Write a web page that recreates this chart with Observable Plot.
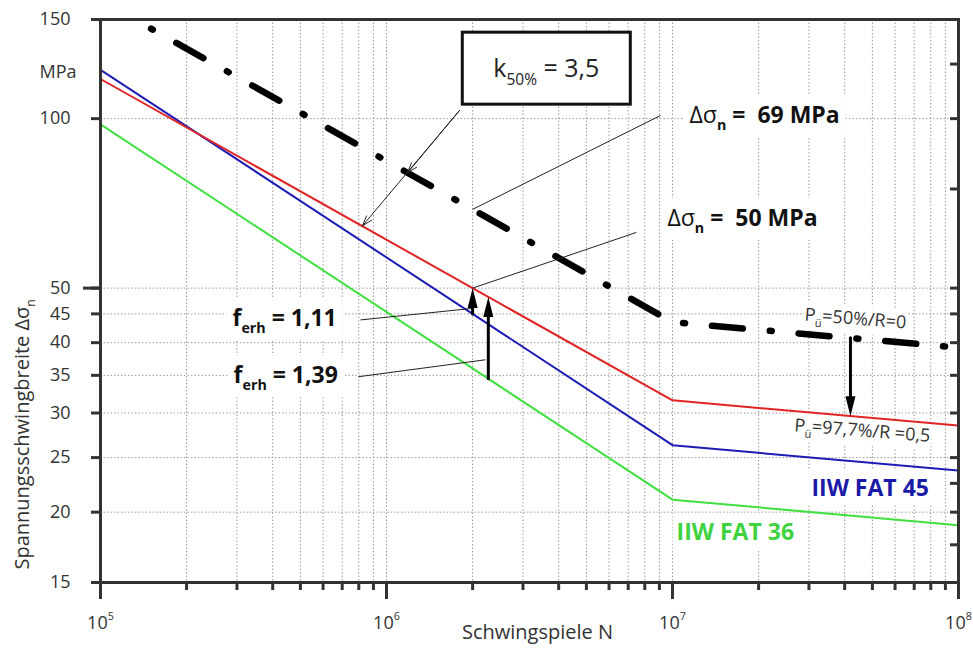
<!DOCTYPE html>
<html><head><meta charset="utf-8">
<script src="https://cdn.jsdelivr.net/npm/d3@7"></script>
<script src="https://cdn.jsdelivr.net/npm/@observablehq/plot@0.6"></script>
<style>
body{margin:0;background:#fff;}
#chart svg{font-family:"Open Sans",sans-serif;}
#chart text{white-space:pre;}
</style></head><body><div id="chart"></div>
<script>
// ---- data ----
const cycles = [1e5, 2e6, 1e7, 1e8];
const ref50 = [162.3, 69, 43.5, 39.2];     // P_ü=50%/R=0 (dash-dot)
const red977 = [117.6, 50, 31.6, 28.5];    // P_ü=97,7%/R=0,5
const fat45 = [122.1, 45, 26.3, 23.7];     // IIW FAT 45
const fat36 = [97.7, 36, 21.05, 18.96];    // IIW FAT 36

const xMajor = [1e5, 1e6, 1e7, 1e8];
const xMinor = [2e5,3e5,4e5,5e5,6e5,7e5,8e5,9e5,2e6,3e6,4e6,5e6,6e6,7e6,8e6,9e6,2e7,3e7,4e7,5e7,6e7,7e7,8e7,9e7];
const xGrid = [...xMinor, 1e6, 1e7];
const yTicks = [15, 20, 25, 30, 35, 40, 45, 50, 100, 150];
const yGrid = [20, 25, 30, 35, 40, 45, 50, 100];
const yRight = [17.5, 20, 22.5, 25, 30, 35, 40, 45, 50, 75, 100, 125];

const rows = vals => cycles.map((n, i) => ({n, s: vals[i]}));

// annotations (data coordinates)
const boxNote = [{n: 3.62e6, s: 122.3, label: "k_{50%} = 3,5"}];
const boldNotes = [
  {n: 1.147e7, s: 101.3, label: "!{Δσ}_{n} =  69 MPa"},
  {n: 9.6e6, s: 66.4, label: "!{Δσ}_{n} =  50 MPa"},
  {n: 2.894e5, s: 44.1, label: "f_{erh} = 1,11"},
  {n: 2.92e5, s: 34.9, label: "f_{erh} = 1,39"}
];
const pNotes = [
  {n: 4.36e7, s: 44.1, label: "P_{ü}=50%/R=0"},
  {n: 4.61e7, s: 27.9, label: "P_{ü}=97,7%/R =0,5"}
];
const fatNotes = [
  {n: 3.06e7, s: 22.0, label: "IIW FAT 45", color: "#1a1aa8"},
  {n: 1.033e7, s: 18.4, label: "IIW FAT 36", color: "#3fd23f"}
];
const yTitle = [{s: 27.5, label: "Spannungsschwingbreite Δσ_{n}"}];
const leaderArrows = [
  {n1: 1.80e6, s1: 103.4, n2: 8.24e5, s2: 64.5},
  {n1: 1.80e6, s1: 103.4, n2: 1.184e6, s2: 80.1}
];
const leaderLinks = [
  {n1: 9.08e6, s1: 101.3, n2: 2e6, s2: 69},
  {n1: 7.48e6, s1: 62.8, n2: 2e6, s2: 50},
  {n1: 8.11e5, s1: 43.9, n2: 1.98e6, s2: 46.0},
  {n1: 7.98e5, s1: 34.8, n2: 2.22e6, s2: 37.3}
];
const bigArrows = [
  {n: 2e6, s1: 45, s2: 50},
  {n: 2.27e6, s1: 34.5, s2: 48.2},
  {n: 4.19e7, s1: 40.8, s2: 29.6}
];

const headSymbol = {draw(ctx) { ctx.moveTo(0, 0); ctx.lineTo(5, 20); ctx.lineTo(-5, 20); ctx.closePath(); }};

const svg = Plot.plot({
  width: 973, height: 648,
  marginLeft: 100, marginRight: 15, marginTop: 19, marginBottom: 66,
  style: {fontFamily: '"Open Sans", sans-serif', fontSize: "18px", color: "#333", background: "#fff"},
  x: {type: "log", domain: [1e5, 1e8]},
  y: {type: "log", domain: [15, 150]},
  marks: [
    Plot.gridX(xGrid, {stroke: "#9a9a9a", strokeOpacity: 1, strokeDasharray: "1.5,2", strokeWidth: 1}),
    Plot.gridY(yGrid, {stroke: "#9a9a9a", strokeOpacity: 1, strokeDasharray: "1.5,2", strokeWidth: 1}),
    Plot.text(boxNote, {x: "n", y: "s", text: "label", fontSize: 25, fill: "#222", ariaLabel: () => "box"}),
    Plot.text(boldNotes, {x: "n", y: "s", text: "label", fontSize: 23, fontWeight: "bold", fill: "#111", textAnchor: "start", ariaLabel: () => "bg-6"}),
    Plot.text(pNotes, {x: "n", y: "s", text: "label", fontSize: 18, fill: "#333", rotate: 4.5, ariaLabel: () => "bg-1"}),
    Plot.text(fatNotes, {x: "n", y: "s", text: "label", fontSize: 23, fontWeight: "bold", fill: "color", textAnchor: "start", ariaLabel: () => "bg-4"}),
    Plot.line(rows(fat36), {x: "n", y: "s", stroke: "#3fe03f", strokeWidth: 2, clip: true}),
    Plot.line(rows(fat45), {x: "n", y: "s", stroke: "#1c1cb4", strokeWidth: 2, clip: true}),
    Plot.line(rows(red977), {x: "n", y: "s", stroke: "#e02424", strokeWidth: 2, clip: true}),
    Plot.line(rows(ref50), {x: "n", y: "s", stroke: "#000", strokeWidth: 6.5, strokeLinecap: "round", strokeDasharray: "31,27,2,27", clip: true}),
    Plot.arrow(leaderArrows, {x1: "n1", y1: "s1", x2: "n2", y2: "s2", stroke: "#222", strokeWidth: 1, headLength: 16, headAngle: 36}),
    Plot.link(leaderLinks, {x1: "n1", y1: "s1", x2: "n2", y2: "s2", stroke: "#222", strokeWidth: 1}),
    Plot.arrow(bigArrows, {x: "n", y1: "s1", y2: "s2", stroke: "#000", strokeWidth: 3, headLength: 0, insetEnd: 12}),
    Plot.dot(bigArrows, {x: "n", y: "s2", symbol: headSymbol, fill: "#000", stroke: "none", rotate: d => d.s2 < d.s1 ? 180 : 0}),
    Plot.axisX(xMinor, {tickSize: 8, strokeWidth: 3, tickFormat: () => "", label: null}),
    Plot.axisX(xMajor, {tickSize: 17, strokeWidth: 3, tickPadding: 17, fontSize: 18, tickFormat: d => `10^{${Math.round(Math.log10(d))}}`, label: null}),
    Plot.axisY(yTicks, {tickSize: 9, strokeWidth: 3, tickPadding: 21, fontSize: 18, tickFormat: d => String(d), label: null}),
    Plot.axisY([50], {tickSize: 17, strokeWidth: 3, tickFormat: () => "", label: null}),
    Plot.axisY(yRight, {anchor: "right", tickSize: 9, dx: -9, strokeWidth: 3, tickFormat: () => "", label: null}),
    Plot.frame({strokeWidth: 3}),
    Plot.text(["MPa"], {frameAnchor: "top-left", dx: -24, dy: 46, textAnchor: "end", fontSize: 18, fill: "#333"}),
    Plot.text(yTitle, {y: "s", text: "label", frameAnchor: "left", dx: -78, rotate: -90, textAnchor: "middle", fontSize: 20, fill: "#333"}),
    Plot.text(["Schwingspiele N"], {frameAnchor: "bottom", dx: 8, dy: 56, textAnchor: "middle", fontSize: 20, fill: "#333"})
  ]
});
document.getElementById("chart").appendChild(svg);

const NS = "http://www.w3.org/2000/svg";
function richify(root) {
  root.querySelectorAll("text").forEach(t => {
    const s = t.textContent;
    if (!/[_^!]\{/.test(s)) return;
    const fs = parseFloat(getComputedStyle(t).fontSize);
    while (t.firstChild) t.removeChild(t.firstChild);
    const re = /([_^!])\{([^}]*)\}/g;
    let last = 0, m, shift = 0;
    const add = (str, type) => {
      if (!str) return;
      const ts = document.createElementNS(NS, "tspan");
      ts.textContent = str;
      let target = 0;
      if (type === "_") { target = fs * 0.3; ts.setAttribute("font-size", fs * 0.62); }
      else if (type === "^") { target = -fs * 0.5; ts.setAttribute("font-size", fs * 0.6); }
      else if (type === "!") { ts.setAttribute("font-weight", "normal"); }
      const d = target - shift;
      if (d) ts.setAttribute("dy", d);
      shift = target;
      t.appendChild(ts);
    };
    while ((m = re.exec(s))) { add(s.slice(last, m.index), ""); add(m[2], m[1]); last = re.lastIndex; }
    add(s.slice(last), "");
  });
}
function backgrounds(root) {
  root.querySelectorAll("text[aria-label]").forEach(t => {
    const lab = t.getAttribute("aria-label");
    if (!(lab === "box" || lab.startsWith("bg-"))) return;
    const b = t.getBBox();
    const r = document.createElementNS(NS, "rect");
    let x, y, w, h;
    if (lab === "box") {
      w = 168; h = 72; x = b.x + b.width / 2 - w / 2; y = b.y + b.height / 2 - h / 2 - 2;
      r.setAttribute("stroke", "#111"); r.setAttribute("stroke-width", 3);
    } else {
      const p = +lab.split("-")[1];
      x = b.x - p; y = b.y - p / 2; w = b.width + 2 * p; h = b.height + p;
      r.setAttribute("stroke", "none");
    }
    r.setAttribute("x", x); r.setAttribute("y", y); r.setAttribute("width", w); r.setAttribute("height", h);
    r.setAttribute("fill", "#fff");
    const tr = t.getAttribute("transform"); if (tr) r.setAttribute("transform", tr);
    t.parentNode.insertBefore(r, t);
  });
}
richify(svg);
backgrounds(svg);
</script></body></html>
